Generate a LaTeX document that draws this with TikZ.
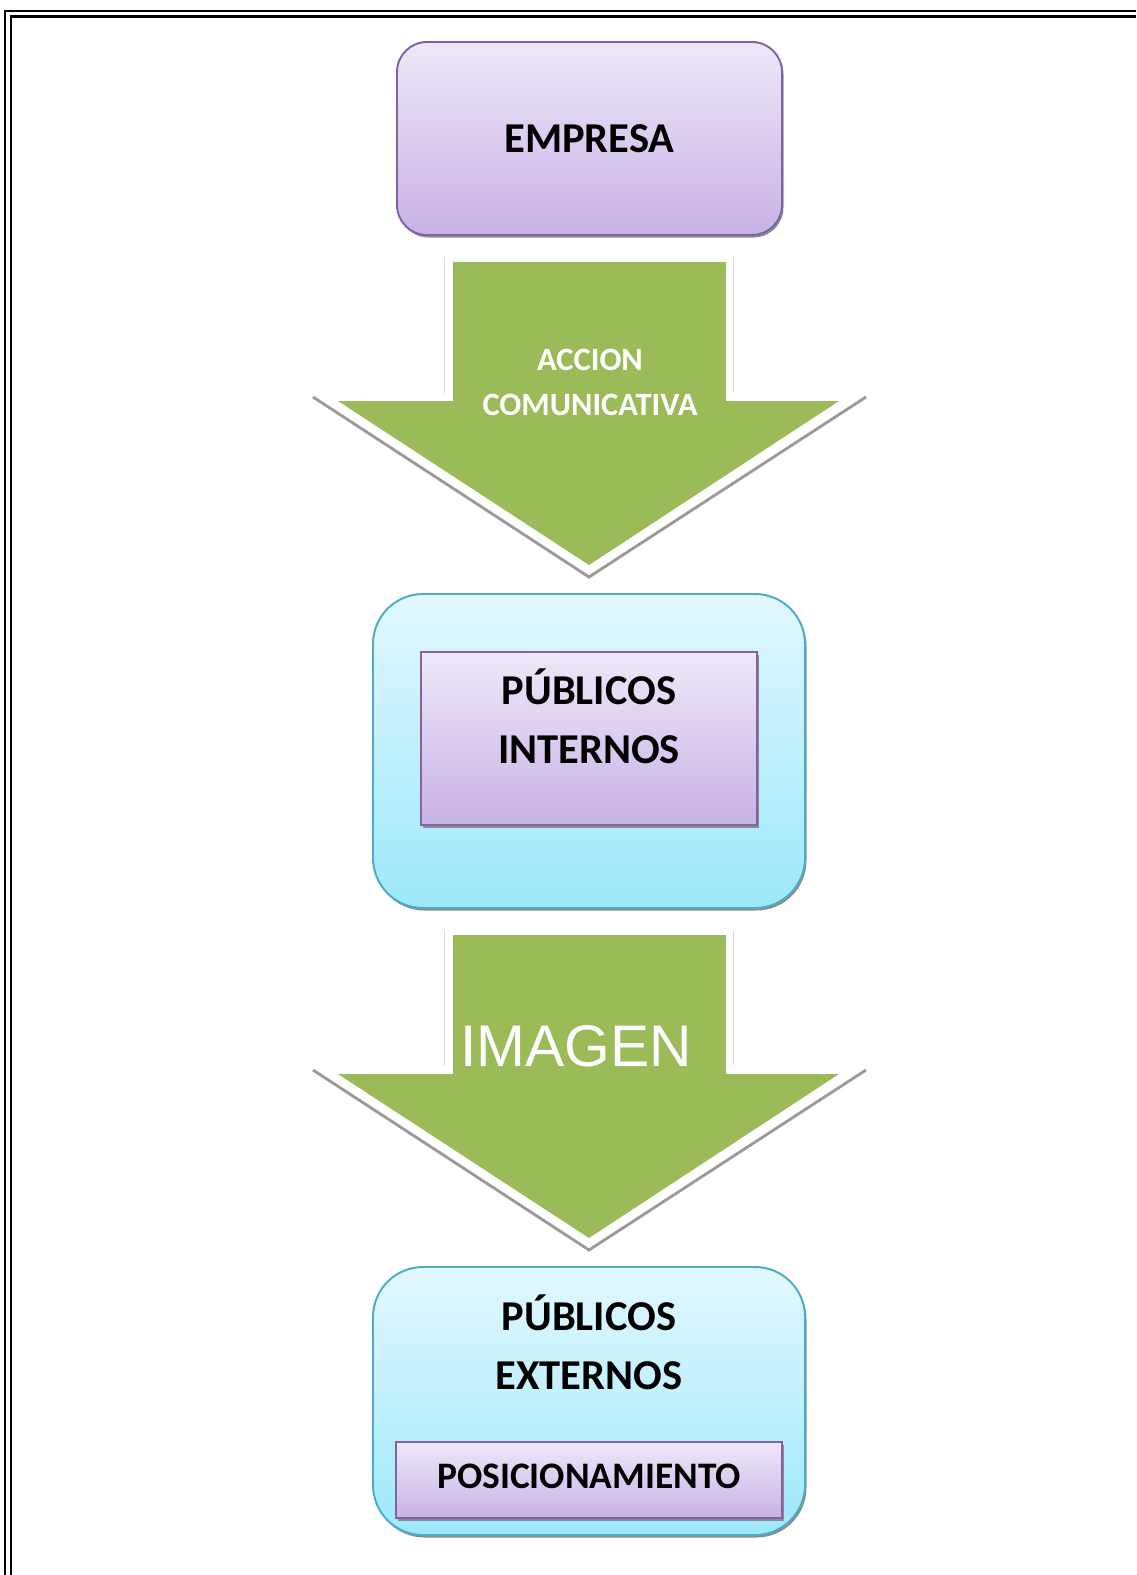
\documentclass[tikz,border=0pt]{standalone}
\usepackage{fontspec}
\setmainfont{Carlito}
\newfontfamily\imagenfont{Liberation Sans}
\usetikzlibrary{shadows}

\definecolor{lilaline}{HTML}{8064A2}
\definecolor{lilatop}{HTML}{EEE8F8}
\definecolor{lilabot}{HTML}{C8B2E6}
\definecolor{cyanline}{HTML}{4BACC6}
\definecolor{cyantop}{HTML}{E2F8FE}
\definecolor{cyanbot}{HTML}{9EE8FC}
\definecolor{arrowgreen}{HTML}{9BBB59}

\begin{document}
\begin{tikzpicture}[x=0.02cm,y=-0.02cm,
  lilabox/.style={draw=lilaline,line width=1.1pt,top color=lilatop,bottom color=lilabot,
    drop shadow={shadow xshift=0.03cm,shadow yshift=-0.05cm,fill=black!45,opacity=1}},
  cyanbox/.style={draw=cyanline,line width=1.1pt,top color=cyantop,bottom color=cyanbot,
    rounded corners=1cm,
    drop shadow={shadow xshift=0.03cm,shadow yshift=-0.05cm,fill=black!45,opacity=1}},
  greenarrow/.style={fill=arrowgreen},
  arrowedge/.style={draw=black!40,line width=1.6pt},
  arrowrim/.style={draw=black!15,line width=0.5pt},
  label/.style={anchor=base,inner sep=0pt,font=\fontsize{24.2}{29}\selectfont\bfseries},
  arrowlabel/.style={anchor=base,inner sep=0pt,text=white,font=\fontsize{18.5}{22}\selectfont\bfseries}]
 \useasboundingbox (0,0) rectangle (1136,1575);
 \draw[line width=1.1pt] (5,1575) -- (5,11) -- (1136,11);
 \draw[line width=1.7pt] (11,1575) -- (11,16.5) -- (1136,16.5);

 \draw[lilabox,rounded corners=0.6cm] (397,42) rectangle (782,235);
 \node[label] (empresa) at (589.5,153) {EMPRESA};

 \foreach \dy in {0,673} {
   \draw[arrowrim] (444,258+\dy) -- (444,393+\dy)
                   (733,258+\dy) -- (733,392+\dy);
   \draw[arrowedge] (313,397+\dy) -- (589,577+\dy) -- (866,397+\dy);
   \fill[greenarrow] (453,262+\dy) -- (726,262+\dy) -- (726,401+\dy) -- (839,401+\dy)
                     -- (589,565+\dy) -- (338,401+\dy) -- (453,401+\dy) -- cycle;
 }
 \node[arrowlabel] (accion) at (590,370) {ACCION};
 \node[arrowlabel] (comunicativa) at (590,415) {COMUNICATIVA};
 \node[anchor=base,inner sep=0pt,text=white,font=\fontsize{33.4}{40}\selectfont\imagenfont]
   (imagen) at (576,1066) {IMAGEN};

 \draw[cyanbox] (373,594) rectangle (805,908);
 \draw[lilabox] (421,652) rectangle (757,825);
 \node[label] (publicosint) at (589,704) {PÚBLICOS};
 \node[label] (internos) at (589,763) {INTERNOS};

 \draw[cyanbox] (373,1267) rectangle (805,1535);
 \node[label] (publicosext) at (589,1330) {PÚBLICOS};
 \node[label] (externos) at (589,1389) {EXTERNOS};
 \draw[lilabox] (396,1442) rectangle (782,1518);
 \node[label,font=\fontsize{21.3}{26}\selectfont\bfseries] (posicionamiento) at (589,1488) {POSICIONAMIENTO};
\end{tikzpicture}
\end{document}
